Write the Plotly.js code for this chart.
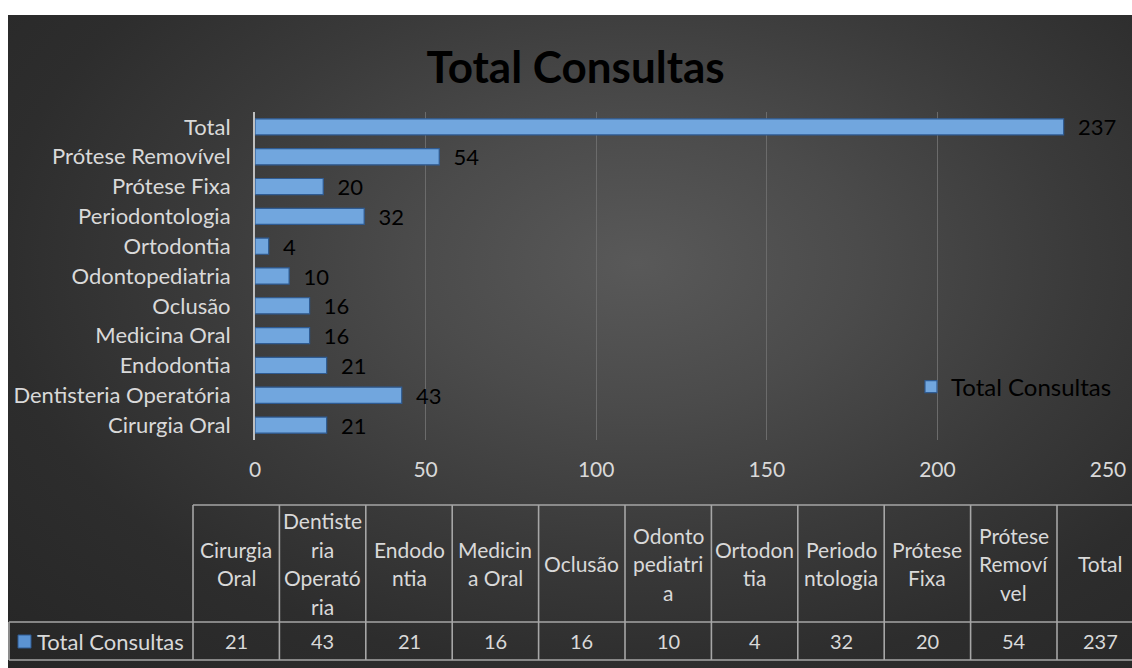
<!DOCTYPE html>
<html>
<head>
<meta charset="utf-8">
<script src="https://cdn.plot.ly/plotly-3.0.1.min.js"></script>
<style>
html,body{margin:0;padding:0;background:#ffffff;overflow:hidden;width:1132px;height:668px;}
#chart{position:absolute;left:8px;top:15px;width:1124px;height:653px;
background:radial-gradient(ellipse farthest-corner at 56% 38%, #595959 0%, #4b4b4b 25%, #3a3a3a 50%, #2d2d2d 72%, #262626 100%);}
</style>
</head>
<body>
<div id="chart"></div>
<script>
// ---- data ----
const categories = ['Cirurgia Oral','Dentisteria Operatória','Endodontia','Medicina Oral','Oclusão','Odontopediatria','Ortodontia','Periodontologia','Prótese Fixa','Prótese Removível','Total'];
const consultas = [21,43,21,16,16,10,4,32,20,54,237];
const tableHeaders = ['Cirurgia\nOral','Dentiste\nria\nOperató\nria','Endodo\nntia','Medicin\na Oral','Oclusão','Odonto\npediatri\na','Ortodon\ntia','Periodo\nntologia','Prótese\nFixa','Prótese\nRemoví\nvel','Total'];
const xTickVals = [0,50,100,150,200,250];
const seriesName = 'Total Consultas';

// ---- layout geometry (div pixels) ----
const W = 1124, H = 653;
const M = {l:247, r:24, t:97, b:228};
const plotW = W - M.l - M.r, plotH = H - M.t - M.b;
const px2x = p => (p - M.l) / plotW;
const px2y = p => (H - M.b - p) / plotH;

const FONT = 'Lato, "Open Sans", sans-serif';
const LIGHT = '#d9d9d9';
const BORDER = '#a6a6a6';

// table geometry
const tTop = 490, tMid = 607, tBot = 645, firstL = 1, firstR = 185, colW = 86.4, lineGap = 28.5;

const shapes = [];
const annotations = [];
const nCols = categories.length;
const tRight = firstR + nCols * colW;
const line = (x0,y0,x1,y1) => shapes.push({type:'line', xref:'paper', yref:'paper',
  x0:px2x(x0), y0:px2y(y0), x1:px2x(x1), y1:px2y(y1), line:{color:BORDER, width:1.6}});
line(firstR, tTop, tRight, tTop);
line(firstL, tMid, tRight, tMid);
line(firstL, tBot, tRight, tBot);
line(firstL, tMid, firstL, tBot);
for (let i = 0; i <= nCols; i++) {
  const x = firstR + i * colW;
  line(x, tTop, x, tBot);
}
// header texts, one annotation per wrapped line, vertically centred
tableHeaders.forEach((h, i) => {
  const lines = h.split('\n');
  const cx = firstR + (i + 0.5) * colW;
  const cy = (tTop + tMid) / 2;
  lines.forEach((ln, k) => {
    const y = cy + (k - (lines.length - 1) / 2) * lineGap;
    annotations.push({xref:'paper', yref:'paper', x:px2x(cx), y:px2y(y), text:ln,
      showarrow:false, xanchor:'center', yanchor:'middle', font:{family:FONT, size:21, color:LIGHT}});
  });
});
// values row
consultas.forEach((v, i) => {
  const cx = firstR + (i + 0.5) * colW;
  annotations.push({xref:'paper', yref:'paper', x:px2x(cx), y:px2y((tMid + tBot) / 2), text:String(v),
    showarrow:false, xanchor:'center', yanchor:'middle', font:{family:FONT, size:20, color:LIGHT}});
});
// row label with legend key
shapes.push({type:'rect', xref:'paper', yref:'paper', x0:px2x(10), x1:px2x(23), y0:px2y(620), y1:px2y(633),
  fillcolor:'#5b93d3', line:{color:'#2f5b92', width:1}});
annotations.push({xref:'paper', yref:'paper', x:px2x(27), y:px2y((tMid + tBot) / 2), text:seriesName,
  showarrow:false, xanchor:'left', yanchor:'middle', font:{family:FONT, size:22, color:LIGHT}});

const trace = {
  type:'bar', orientation:'h', name:seriesName,
  y:categories, x:consultas,
  marker:{color:'#71a6de', line:{color:'#2f5b92', width:1.2}},
  text:consultas.map(String),
  texttemplate:'\u00a0\u00a0%{text}',
  textposition:'outside', cliponaxis:false, constraintext:'none',
  outsidetextfont:{family:FONT, size:22, color:'#000000'},
  hoverinfo:'x+y'
};

const layout = {
  width:W, height:H,
  paper_bgcolor:'rgba(0,0,0,0)', plot_bgcolor:'rgba(0,0,0,0)',
  margin:M,
  font:{family:FONT, color:LIGHT},
  title:{text:'Total Consultas', x:0.505, xref:'container', xanchor:'center',
    y:1 - 53 / H, yref:'container', yanchor:'middle',
    font:{family:FONT, size:44, weight:'bold', color:'#000000'}},
  bargap:0.46,
  xaxis:{range:[0,250], tickvals:xTickVals, showgrid:true, gridcolor:'#6b6b6b', gridwidth:1,
    zeroline:false, showline:false, ticks:'', ticklabelstandoff:15,
    tickfont:{family:FONT, size:21, color:LIGHT}, fixedrange:true},
  yaxis:{type:'category', showline:true, linecolor:'#bfbfbf', linewidth:2, showgrid:false,
    ticks:'', ticklabelstandoff:18, tickfont:{family:FONT, size:22, color:LIGHT}, fixedrange:true},
  showlegend:true,
  legend:{x:px2x(1109), y:px2y(372), xanchor:'right', yanchor:'middle', bgcolor:'rgba(0,0,0,0)',
    itemwidth:30, font:{family:FONT, size:24, color:'#000000'}},
  shapes:shapes, annotations:annotations
};

Plotly.newPlot('chart', [trace], layout, {displayModeBar:false});
</script>
</body>
</html>
